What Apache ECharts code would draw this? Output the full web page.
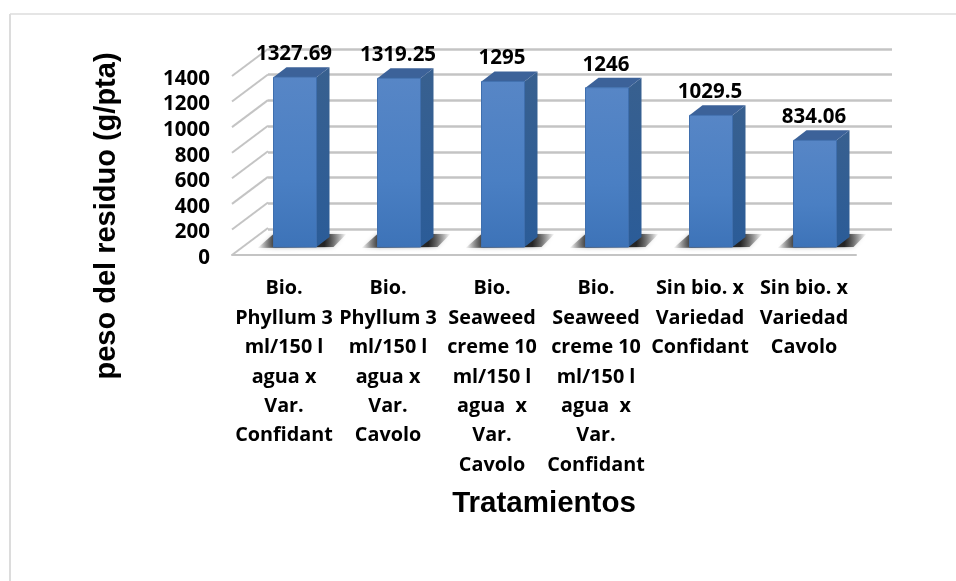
<!DOCTYPE html>
<html>
<head>
<meta charset="utf-8">
<style>
html, body { margin: 0; padding: 0; background: #fff; }
#chart { width: 956px; height: 581px; }
</style>
<script src="https://cdn.jsdelivr.net/npm/echarts@6/dist/echarts.min.js"></script>
</head>
<body>
<div id="chart"></div>
<script>
const categories = [
    'Bio.\nPhyllum 3\nml/150 l\nagua x\nVar.\nConfidant',
    'Bio.\nPhyllum 3\nml/150 l\nagua x\nVar.\nCavolo',
    'Bio.\nSeaweed\ncreme 10\nml/150 l\nagua  x\nVar.\nCavolo',
    'Bio.\nSeaweed\ncreme 10\nml/150 l\nagua  x\nVar.\nConfidant',
    'Sin bio. x\nVariedad\nConfidant',
    'Sin bio. x\nVariedad\nCavolo'
]
const values = [1327.69, 1319.25, 1295, 1246, 1029.5, 834.06]
const yTicks = [0, 200, 400, 600, 800, 1000, 1200, 1400]

const labelFont = 'Open Sans'
const titleFont = 'Liberation Sans'
const gridColor = '#c4c4c4'

// depth of the fake 3d box
const wallDx = 36
const wallDy = 27
const barWidth = 43
const barDx = 13
const barDy = 10
const floorDx = 11
const floorDy = 8

const renderWall = (params, api) => {
    const y = api.coord([0, api.value(0)])[1]
    const x = params.coordSys.x
    return {
        type: 'line',
        shape: { x1: x, y1: y, x2: x + wallDx, y2: y - wallDy },
        style: { stroke: gridColor, lineWidth: 2 },
        silent: true
    }
}

const renderBar = (params, api) => {
    const p = api.coord([api.value(0), api.value(1)])
    const base = api.coord([api.value(0), 0])
    const left = p[0] + floorDx - barWidth / 2
    const right = left + barWidth
    const top = p[1] - floorDy
    const bottom = base[1] - floorDy
    const front = new echarts.graphic.LinearGradient(0, 0, 0, 1, [
        { offset: 0, color: '#5786c6' },
        { offset: 0.6, color: '#4a7fc3' },
        { offset: 1, color: '#3d73b8' }
    ])
    const side = new echarts.graphic.LinearGradient(0, 0, 0, 1, [
        { offset: 0, color: '#38608f' },
        { offset: 1, color: '#2b5c98' }
    ])
    const shadow = new echarts.graphic.LinearGradient(0, 0, 1, 0, [
        { offset: 0, color: 'rgba(20,20,20,0)' },
        { offset: 0.2, color: 'rgba(20,20,20,0.8)' },
        { offset: 0.75, color: 'rgba(20,20,20,0.9)' },
        { offset: 1, color: 'rgba(20,20,20,0)' }
    ])
    return {
        type: 'group',
        children: [
            {
                type: 'polygon',
                shape: { points: [[left - 16, bottom + 1], [right + 17, bottom], [right + 30, bottom - 13], [left, bottom - 13]] },
                style: { fill: shadow, shadowBlur: 4, shadowColor: 'rgba(0,0,0,0.35)' }
            },
            {
                type: 'polygon',
                shape: { points: [[right, top], [right + barDx, top - barDy], [right + barDx, bottom - barDy], [right, bottom]] },
                style: { fill: side }
            },
            {
                type: 'polygon',
                shape: { points: [[left, top], [left + barDx, top - barDy], [right + barDx, top - barDy], [right, top]] },
                style: { fill: '#3c6299' }
            },
            {
                type: 'rect',
                shape: { x: left, y: top, width: barWidth, height: bottom - top },
                style: { fill: front, stroke: '#3f6fae', lineWidth: 1 }
            },
            {
                type: 'text',
                style: {
                    x: left + barWidth / 2 - 1,
                    y: top - 23,
                    text: String(api.value(1)),
                    font: 'bold 20.5px ' + labelFont,
                    fill: '#000',
                    align: 'center',
                    verticalAlign: 'middle'
                }
            }
        ]
    }
}

const chart = echarts.init(document.getElementById('chart'))
chart.setOption({
    animation: false,
    backgroundColor: '#fff',
    grid: [
        { left: 232, top: 76, width: 624, height: 179 },
        { left: 268, top: 49, width: 624, height: 180 }
    ],
    xAxis: [
        {
            type: 'category',
            data: categories,
            gridIndex: 0,
            axisTick: { show: false },
            axisLine: { lineStyle: { color: gridColor, width: 2 } },
            axisLabel: {
                interval: 0,
                margin: 19,
                color: '#000',
                fontFamily: labelFont,
                fontWeight: 'bold',
                fontSize: 19.8,
                lineHeight: 29.4
            },
            name: 'Tratamientos',
            nameLocation: 'middle',
            nameGap: 234,
            nameTextStyle: { color: '#000', fontFamily: titleFont, fontWeight: 'bold', fontSize: 29.5 }
        },
        {
            type: 'category',
            data: categories,
            gridIndex: 1,
            axisTick: { show: false },
            axisLabel: { show: false },
            axisLine: { show: false }
        }
    ],
    yAxis: [
        {
            type: 'value',
            gridIndex: 0,
            min: 0,
            max: 1400,
            interval: 200,
            splitLine: { show: false },
            axisLine: { show: false },
            axisTick: { show: false },
            axisLabel: {
                margin: 22,
                color: '#000',
                formatter: (v) => '{t|' + v + '}',
                rich: {
                    t: {
                        padding: [6, 0, 0, 0],
                        color: '#000',
                        fontFamily: labelFont,
                        fontWeight: 'bold',
                        fontSize: 20.5
                    }
                }
            }
        },
        {
            type: 'value',
            gridIndex: 1,
            min: 0,
            max: 1400,
            interval: 200,
            axisLine: { show: false },
            axisTick: { show: false },
            axisLabel: { show: false },
            splitLine: { show: true, lineStyle: { color: gridColor, width: 2.5 } }
        }
    ],
    graphic: [
        { type: 'line', silent: true, shape: { x1: 10, y1: 14, x2: 956, y2: 14 }, style: { stroke: '#dcdcdc', lineWidth: 1.5 } },
        { type: 'line', silent: true, shape: { x1: 10, y1: 14, x2: 10, y2: 581 }, style: { stroke: '#dcdcdc', lineWidth: 2 } },
        {
            type: 'text',
            silent: true,
            x: 107,
            y: 216,
            rotation: Math.PI / 2,
            style: {
                text: 'peso del residuo (g/pta)',
                font: 'bold 29px ' + titleFont,
                fill: '#000',
                align: 'center',
                verticalAlign: 'middle'
            }
        }
    ],
    series: [
        {
            type: 'custom',
            xAxisIndex: 0,
            yAxisIndex: 0,
            clip: false,
            silent: true,
            z: 2,
            encode: { y: 0 },
            data: yTicks.map((v) => [v]),
            renderItem: renderWall
        },
        {
            type: 'custom',
            xAxisIndex: 0,
            yAxisIndex: 0,
            clip: false,
            silent: true,
            z: 3,
            encode: { x: 0, y: 1 },
            data: values.map((v, i) => [i, v]),
            renderItem: renderBar
        }
    ]
})
</script>
</body>
</html>
